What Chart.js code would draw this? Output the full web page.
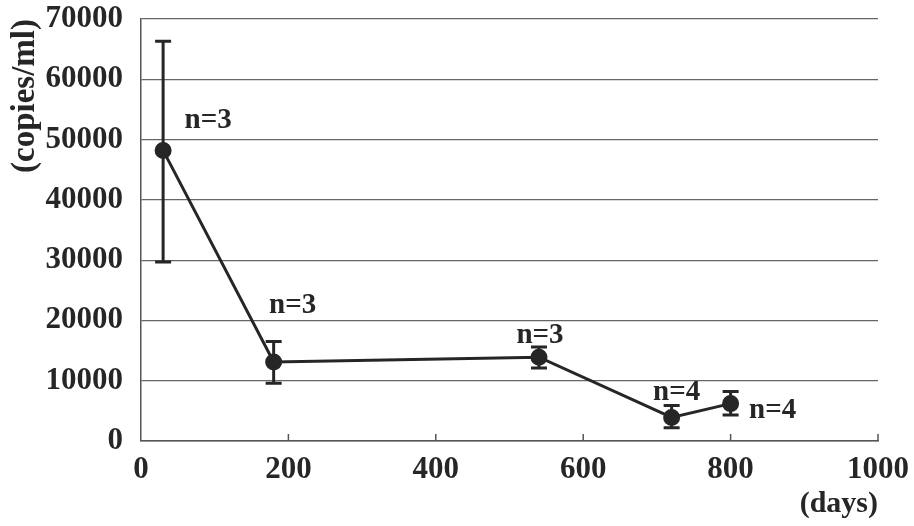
<!DOCTYPE html>
<html>
<head>
<meta charset="utf-8">
<script src="https://cdn.jsdelivr.net/npm/chart.js@4"></script>
<style>
  html, body { margin: 0; padding: 0; background: #fff; }
  #wrap { width: 914px; height: 526px; }
</style>
</head>
<body>
<div id="wrap"><canvas id="viralChart" width="914" height="526"></canvas></div>
<script>
// data
const days = [30, 180, 540, 720, 800];
const copies = [48200, 13100, 13900, 3900, 6200];
const errLow = [29700, 9600, 12100, 2200, 4300];
const errHigh = [66300, 16500, 15600, 5900, 8200];
const nCounts = ['n=3', 'n=3', 'n=3', 'n=4', 'n=4'];

const ink = '#262626';
const serif = '"Liberation Serif", "Times New Roman", serif';

// error bars drawn from errLow / errHigh through the scales
const errorBars = {
    id: 'errorBars',
    afterDatasetsDraw(chart) {
        const { ctx, scales: { x, y } } = chart;
        ctx.save();
        ctx.strokeStyle = ink;
        ctx.lineWidth = 3;
        days.forEach((d, i) => {
            const px = x.getPixelForValue(d);
            const top = y.getPixelForValue(errHigh[i]);
            const bot = y.getPixelForValue(errLow[i]);
            ctx.beginPath();
            ctx.moveTo(px, top);
            ctx.lineTo(px, bot);
            ctx.moveTo(px - 8, top);
            ctx.lineTo(px + 8, top);
            ctx.moveTo(px - 8, bot);
            ctx.lineTo(px + 8, bot);
            ctx.stroke();
        });
        ctx.restore();
    }
};

// "n=" labels next to each point
const nLabels = {
    id: 'nLabels',
    afterDatasetsDraw(chart, args, opts) {
        const { ctx, scales: { x, y } } = chart;
        ctx.save();
        ctx.fillStyle = ink;
        ctx.font = 'bold 29px ' + serif;
        ctx.textAlign = 'center';
        ctx.textBaseline = 'middle';
        days.forEach((d, i) => {
            const off = opts.offsets[i];
            ctx.fillText(nCounts[i], x.getPixelForValue(d) + off[0], y.getPixelForValue(copies[i]) + off[1]);
        });
        ctx.restore();
    }
};

// small inward tick marks on the x axis
const innerTicks = {
    id: 'innerTicks',
    afterDraw(chart) {
        const { ctx, scales: { x, y } } = chart;
        const base = y.getPixelForValue(0);
        ctx.save();
        ctx.strokeStyle = '#555';
        ctx.lineWidth = 1.5;
        x.ticks.forEach(t => {
            if (t.value === 0) return;
            const px = x.getPixelForValue(t.value);
            ctx.beginPath();
            ctx.moveTo(px, base);
            ctx.lineTo(px, base - 7);
            ctx.stroke();
        });
        ctx.restore();
    }
};

const ctx = document.getElementById('viralChart').getContext('2d');
new Chart(ctx, {
    type: 'line',
    data: {
        datasets: [{
            data: days.map((d, i) => ({ x: d, y: copies[i] })),
            borderColor: ink,
            backgroundColor: ink,
            borderWidth: 3,
            pointRadius: 7,
            pointBackgroundColor: ink,
            pointBorderColor: ink,
            tension: 0,
            fill: false
        }]
    },
    options: {
        responsive: false,
        animation: false,
        layout: { padding: { top: 19, right: 36, left: 6, bottom: 4 } },
        plugins: {
            legend: { display: false },
            tooltip: { enabled: false },
            nLabels: { offsets: [[45, -30], [19, -57], [1, -22], [5, -25], [42, 7]] }
        },
        scales: {
            x: {
                type: 'linear',
                min: 0,
                max: 1000,
                ticks: {
                    stepSize: 200,
                    color: ink,
                    padding: 10,
                    maxRotation: 0,
                    callback: v => String(v),
                    font: { family: serif, size: 31, weight: 'bold' }
                },
                grid: { display: false, drawTicks: false },
                border: { display: true, color: '#555', width: 1.5 },
                title: {
                    display: true,
                    text: '(days)',
                    align: 'end',
                    color: ink,
                    padding: { top: 13, bottom: 0 },
                    font: { family: serif, size: 30, weight: 'bold' }
                },
                afterFit(scale) {
                    scale.height = 81;
                    scale.paddingRight = 0;
                    scale.paddingLeft = 0;
                }
            },
            y: {
                min: 0,
                max: 70000,
                ticks: {
                    stepSize: 10000,
                    color: ink,
                    padding: 18,
                    callback: v => String(v),
                    font: { family: serif, size: 31, weight: 'bold' }
                },
                grid: { color: '#666', lineWidth: 1.2, drawTicks: false },
                border: { display: true, color: '#555', width: 1.5 },
                title: {
                    display: true,
                    text: '(copies/ml)',
                    align: 'end',
                    color: ink,
                    padding: { top: 0, bottom: 0 },
                    font: { family: serif, size: 33, weight: 'bold' }
                },
                afterFit(scale) {
                    scale.width = 135;
                    scale.paddingTop = 0;
                    scale.paddingBottom = 0;
                }
            }
        }
    },
    plugins: [errorBars, nLabels, innerTicks]
});
</script>
</body>
</html>
